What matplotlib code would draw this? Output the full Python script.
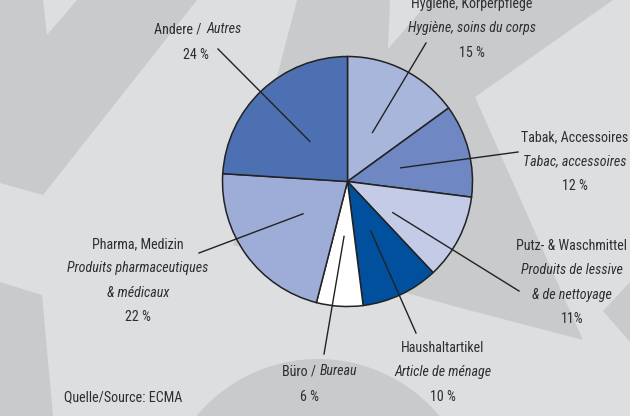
# Pie chart of market shares per product segment (ECMA), bilingual labels
import numpy as np
import matplotlib.pyplot as plt
from matplotlib import font_manager
from matplotlib.font_manager import FontProperties
from matplotlib.patches import Polygon, Circle

W, H = 630, 416

categories_de = ['Hygiene, Körperpflege', 'Tabak, Accessoires', 'Putz- & Waschmittel',
                 'Haushaltartikel', 'Büro', 'Pharma, Medizin', 'Andere']
categories_fr = ['Hygiène, soins du corps', 'Tabac, accessoires', 'Produits de lessive\n& de nettoyage',
                 'Article de ménage', 'Bureau', 'Produits pharmaceutiques\n& médicaux', 'Autres']
shares = [15, 12, 11, 10, 6, 22, 24]
share_labels = ['15 %', '12 %', '11%', '10 %', '6 %', '22 %', '24 %']
colors = ['#a9b6dc', '#6f88c3', '#c4cbe7', '#00509e', '#ffffff', '#9eadd7', '#4d70b2']
source = 'Quelle/Source: ECMA'

# label layout in picture coords (x centre, y of first line, end of leader line)
label_pos = [(472, 3), (575, 136), (572, 245), (443, 347), (316, 370), (138, 243), (202, 28)]
leader_end = [(426, 43), (518, 152), (519, 291), (416, 333), (324, 354), (199, 253), (218, 49)]
leader_nudge = [0, 0, -7.5, 0, 0, 0, 0]   # degrees
inline_fr = [False, False, False, False, True, False, True]

TEXT = '#2e2e2e'
LINE = '#222222'
LINE_H = 24.3


def pick_fonts():
    # look for a condensed face (regular + italic), the original uses a narrow sans
    fl = font_manager.fontManager.ttflist
    cond = [f for f in fl if str(f.stretch) in ('condensed', 'semi-condensed', 'extra-condensed')
            or 'Condensed' in f.name or 'Narrow' in f.name]
    prefs = ['Liberation Sans Narrow', 'Roboto Condensed', 'Noto Sans Condensed',
             'Open Sans Condensed', 'DejaVu Sans']
    names = sorted({f.name for f in cond}, key=lambda n: prefs.index(n) if n in prefs else 99)
    for n in names:
        faces = [f for f in cond if f.name == n and f.weight in (400, 'normal', 'regular')]
        reg = [f for f in faces if f.style == 'normal']
        ita = [f for f in faces if f.style in ('italic', 'oblique')]
        if reg and ita:
            return FontProperties(fname=reg[0].fname), FontProperties(fname=ita[0].fname), 10.1
    return (FontProperties(family='Liberation Sans'),
            FontProperties(family='Liberation Sans', style='italic'), 9.2)


FP_REG, FP_IT, FS = pick_fonts()


def fy(y):
    return H - y


def txt(ax, x, y, s, italic=False, ha='center'):
    # y is the visual middle of the capitals
    fp = (FP_IT if italic else FP_REG).copy()
    fp.set_size(FS)
    ax.text(x, fy(y + 5), s, ha=ha, va='baseline', fontproperties=fp, color=TEXT)


def create():
    fig = plt.figure(figsize=(W / 100, H / 100), dpi=100)
    fig.patch.set_facecolor('#dddee0')
    ax = fig.add_axes([0, 0, 1, 1])

    # decorative background shapes
    dark = '#c9cacc'
    light = '#dddee0'
    shapes = [
        ([(0, 0), (197, 0), (43, 195), (0, 183)], dark),
        ([(43, 0), (77, 0), (47, 35)], light),
        ([(297, 0), (233, 245), (457, 307), (583, 340), (475, 97), (613, 0)], dark),
        ([(390, 0), (430, 0), (388, 49)], light),
        ([(603, 311), (630, 282), (630, 342)], dark),
        ([(0, 282), (42, 295), (53, 416), (0, 416)], dark),
    ]
    for pts, c in shapes:
        ax.add_patch(Polygon([(x, fy(y)) for x, y in pts], closed=True, facecolor=c,
                             edgecolor='none', zorder=0))
    ax.add_patch(Circle((318, fy(517)), 158, facecolor=dark, edgecolor='none', zorder=0))

    cx, cy, r = 347.5, fy(181.5), 125
    wedges, _ = ax.pie(shares, colors=colors, startangle=90, counterclock=False,
                       radius=r, center=(cx, cy),
                       wedgeprops=dict(edgecolor=LINE, linewidth=1.1, zorder=2))

    for i, w in enumerate(wedges):
        mid = np.radians((w.theta1 + w.theta2) / 2 + leader_nudge[i])
        x0 = cx + 0.44 * r * np.cos(mid)
        y0 = cy + 0.44 * r * np.sin(mid)
        ex, ey = leader_end[i]
        ax.plot([x0, ex], [y0, fy(ey)], color=LINE, linewidth=1.0, zorder=3)

        x, y = label_pos[i]
        if inline_fr[i]:
            txt(ax, x, y, categories_de[i] + ' /', ha='right')
            txt(ax, x + 4, y, categories_fr[i], italic=True, ha='left')
            txt(ax, x - 6, y + 26, share_labels[i])
            continue
        txt(ax, x, y, categories_de[i])
        lines = categories_fr[i].split('\n')
        for k, s in enumerate(lines):
            txt(ax, x, y + LINE_H * (k + 1), s, italic=True)
        txt(ax, x, y + LINE_H * (len(lines) + 1), share_labels[i])

    txt(ax, 64, 396, source, ha='left')

    ax.set_xlim(0, W)
    ax.set_ylim(0, H)
    ax.set_aspect('auto')
    ax.axis('off')

    fig.savefig('out.png', dpi=100, facecolor=fig.get_facecolor())


if __name__ == "__main__":
    create()
